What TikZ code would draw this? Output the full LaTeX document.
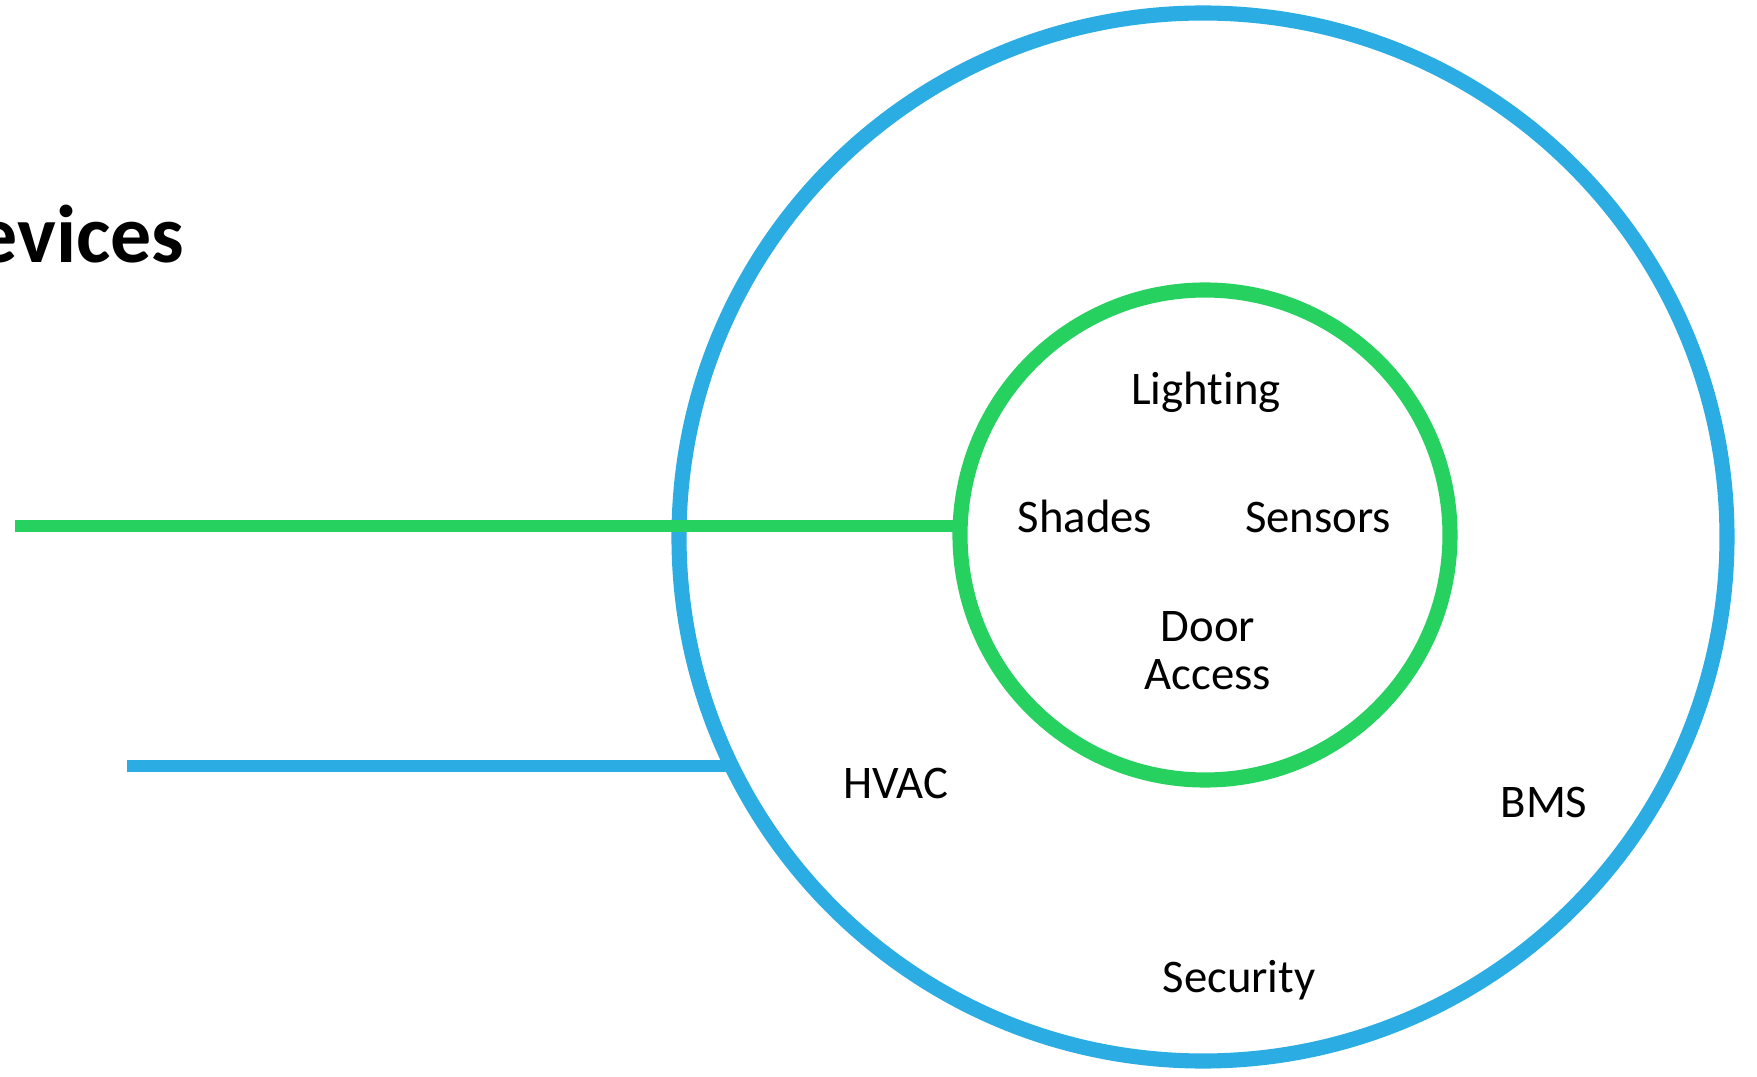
\documentclass[tikz,border=0pt]{standalone}
\usepackage{fontspec}
\setmainfont{Carlito}[Ligatures=NoCommon]
\usepackage{xcolor}
\usepackage{tikz}
\usetikzlibrary{positioning}

\definecolor{ringblue}{RGB}{43,172,226}
\definecolor{ringgreen}{RGB}{38,209,96}

\begin{document}
\begin{tikzpicture}[
  ring/.style={draw,circle,line width=4.3pt,inner sep=0pt,outer sep=0pt,minimum size=#1},
  lbl/.style={anchor=base,inner sep=0pt,align=center,font=\fontsize{13.3}{13.7}\selectfont},
  every node/.style={align=center}
]
\useasboundingbox (0,0) rectangle (17.57,10.76);

\node[ring=10.48cm,ringblue]  (bms)  at (12.03,5.39) {};
\coordinate (g0) at (0.15,5.50);
\coordinate (b0) at (1.27,3.10);
\draw[ringblue,line width=3.4pt]  (b0) -- (b0 -| bms.205.9);
\draw[ringgreen,line width=3.4pt] (g0) -- (g0 -| 9.60,0);
\node[ring=4.90cm,ringgreen] (zone) at (12.05,5.41) {};

\node[anchor=base east,inner sep=0pt,font=\fontsize{23.3}{28}\selectfont\bfseries] (title) at (1.85,8.13) {Devices};

\node[lbl] (light) at (12.06,6.71) {Lighting};
\node[lbl] (shade) at (10.85,5.43) {Shades};
\node[lbl] (sens)  at (13.18,5.43) {Sensors};
\node[lbl] (door)  at (12.08,3.86) {Door\\Access};
\node[lbl] (hvac)  at (8.96,2.78)  {HVAC};
\node[lbl] (bmsl)  at (15.44,2.58) {BMS};
\node[lbl] (sec)   at (12.39,0.84) {Security};
\end{tikzpicture}
\end{document}
